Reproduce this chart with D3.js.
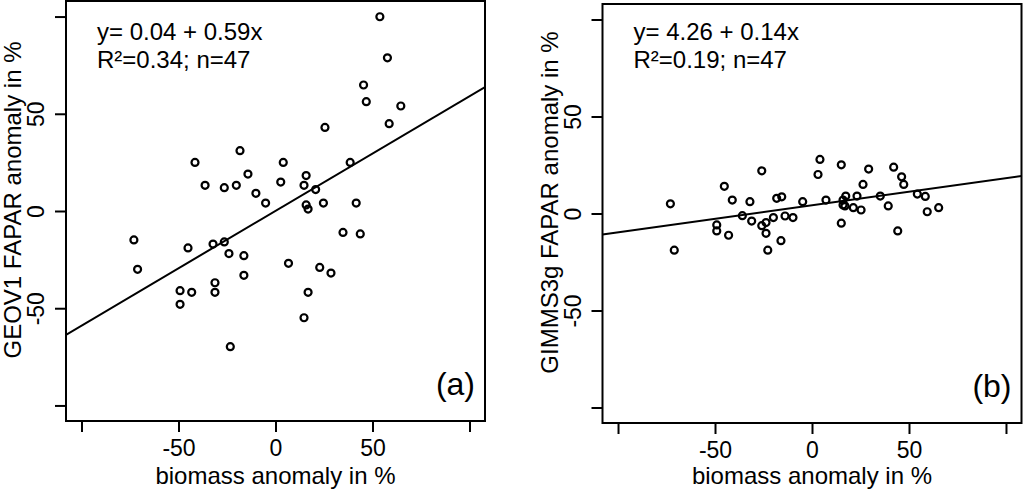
<!DOCTYPE html>
<html>
<head>
<meta charset="utf-8">
<script src="https://cdn.jsdelivr.net/npm/d3@7"></script>
<style>
  body { margin: 0; background: #fff; }
  svg { display: block; font-family: 'Liberation Sans', Arial, sans-serif; }
</style>
</head>
<body>
<div id="wrapper"></div>
<script>
// biomass anomaly (x) vs FAPAR anomaly (y), in %
const geov1X = [53.8, 57.7, 45.4, 46.8, 64.6, 58.6, 25.5, -18.3, -41.5, 4, 38.5, -14.2, 15.8,
  -36.3, -26.4, -20.2, 2.7, 14.7, 20.7, -10.1, -5.1, 15.8, 16.8, 24.7, 41.6, 34.8, 43.7, -73,
  -45.1, -32.2, -26.4, -24, -16.3, 6.7, -71.1, 22.8, 28.6, -16.3, -31.2, -49.2, -43.2, -31.2,
  16.8, -49.2, 14.7, -23.3];
const geov1Y = [99.9, 78.8, 64.8, 56.2, 54, 44.9, 43, 31, 25, 25, 25, 19, 18.2,
  13.2, 12, 13.2, 14.9, 13.2, 11, 9.1, 4.1, 3.1, 1, 4.1, 4.1, -11, -11.8, -14.9,
  -19, -17, -15.9, -21.9, -23, -26.9, -30, -29, -31.9, -33.1, -36.9, -41, -41.8, -41.8,
  -41.8, -48, -54.9, -69.8];

const gimmsX = [-73, -71, -45.2, -41.1, -49.1, -49.1, -43, -35.9, -32, -31.1, -25.9, -25.9, -23.7,
  -23.7, -22.8, -19.9, -18.2, -15.6, -16, -13.9, -9.8, -4.8, 3.1, 4.1, 7.2, 15.1, 15.1, 16, 17.4,
  16, 17, 21.3, 23.2, 25.3, 26.3, 29.2, 35.2, 39.3, 42.1, 44.2, 46.2, 47.3, 54.3, 58.4, 59.4, 65.3];
const gimmsY = [5, -18.9, 14, 6.9, -5.9, -9, -11.2, -1.1, 6.1, -3.9, 22, -6.3, -4.7,
  -10.2, -18.9, -2.1, 7.8, 8.6, -14, -1.3, -2.1, 6.1, 20.1, 27.9, 6.9, 25.1, -5, 6.9, 9,
  4.4, 3.9, 3, 9, 1.8, 15, 22.9, 9, 3.9, 23.9, -9, 18.9, 15, 10, 8.8, 0.9, 3];

// regression fits: intercept, slope
const geov1Fit = [0.04, 0.59];
const gimmsFit = [4.26, 0.14];

const tickValues = [-100, -50, 0, 50, 100];
const tickLabels = ['', '-50', '0', '50', ''];
const axisDomain = [-108, 108];

const panels = [
  {
    id: 'a', xs: geov1X, ys: geov1Y, fit: geov1Fit,
    yLabel: 'GEOV1 FAPAR anomaly in %',
    eq: 'y= 0.04 + 0.59x', stats: 'R²=0.34; n=47', tag: '(a)',
    left: 66, right: 485, top: 1, bottom: 421,
  },
  {
    id: 'b', xs: gimmsX, ys: gimmsY, fit: gimmsFit,
    yLabel: 'GIMMS3g FAPAR anomaly in %',
    eq: 'y= 4.26 + 0.14x', stats: 'R²=0.19; n=47', tag: '(b)',
    left: 602.5, right: 1021.5, top: 4, bottom: 423,
  },
];

const svg = d3.select('#wrapper')
  .append('svg')
  .attr('width', 1024)
  .attr('height', 492);

panels.forEach(p => {
  const w = p.right - p.left;
  const h = p.bottom - p.top;
  const xScale = d3.scaleLinear().domain(axisDomain).range([0, w]);
  const yScale = d3.scaleLinear().domain(axisDomain).range([h, 0]);

  const g = svg.append('g').attr('transform', `translate(${p.left},${p.top})`);

  g.append('clipPath').attr('id', `clip-${p.id}`)
    .append('rect').attr('width', w).attr('height', h);

  // points
  g.append('g')
    .selectAll('circle')
    .data(d3.range(p.xs.length))
    .join('circle')
    .attr('cx', i => xScale(p.xs[i]))
    .attr('cy', i => yScale(p.ys[i]))
    .attr('r', 3.5)
    .attr('fill', 'none')
    .attr('stroke', '#000')
    .attr('stroke-width', 2.2);

  // regression line
  const line = d3.line().x(d => xScale(d)).y(d => yScale(p.fit[0] + p.fit[1] * d));
  g.append('path')
    .attr('clip-path', `url(#clip-${p.id})`)
    .attr('d', line(axisDomain))
    .attr('fill', 'none')
    .attr('stroke', '#000')
    .attr('stroke-width', 2);

  // axes
  const xAxis = d3.axisBottom(xScale)
    .tickValues(tickValues)
    .tickSize(11)
    .tickFormat((d, i) => tickLabels[i]);
  const xg = g.append('g').attr('transform', `translate(0,${h})`).call(xAxis);
  xg.select('.domain').remove();
  xg.selectAll('line').attr('stroke-width', 2);
  xg.selectAll('text')
    .attr('y', 35).attr('dy', 0)
    .attr('font-size', 23).attr('fill', '#000');

  const yAxis = d3.axisLeft(yScale)
    .tickValues(tickValues)
    .tickSize(11)
    .tickFormat((d, i) => tickLabels[i]);
  const yg = g.append('g').call(yAxis);
  yg.select('.domain').remove();
  yg.selectAll('line').attr('stroke-width', 2);
  yg.selectAll('text')
    .attr('x', null).attr('dy', 0)
    .attr('text-anchor', 'middle')
    .attr('transform', 'translate(-22,0) rotate(-90)')
    .attr('font-size', 23).attr('fill', '#000');
  [xg, yg].forEach(a => a.attr('font-family', null).attr('font-size', null));

  // box
  g.append('rect')
    .attr('width', w).attr('height', h)
    .attr('fill', 'none').attr('stroke', '#000').attr('stroke-width', 2);

  // annotation
  g.append('text').attr('x', 31).attr('y', 40 - p.top)
    .attr('font-size', 24).text(p.eq);
  g.append('text').attr('x', 31).attr('y', 68 - p.top)
    .attr('font-size', 24).text(p.stats);
  g.append('text').attr('x', w - 10).attr('y', h - 26)
    .attr('text-anchor', 'end').attr('font-size', 32).text(p.tag);

  // axis labels
  svg.append('text')
    .attr('x', p.left + w / 2).attr('y', 484)
    .attr('text-anchor', 'middle').attr('font-size', 24)
    .text('biomass anomaly in %');
  svg.append('text')
    .attr('transform', `translate(${p.left - 45},${p.top + h / 2 - 11}) rotate(-90)`)
    .attr('text-anchor', 'middle').attr('font-size', 24)
    .text(p.yLabel);
});
</script>
</body>
</html>
